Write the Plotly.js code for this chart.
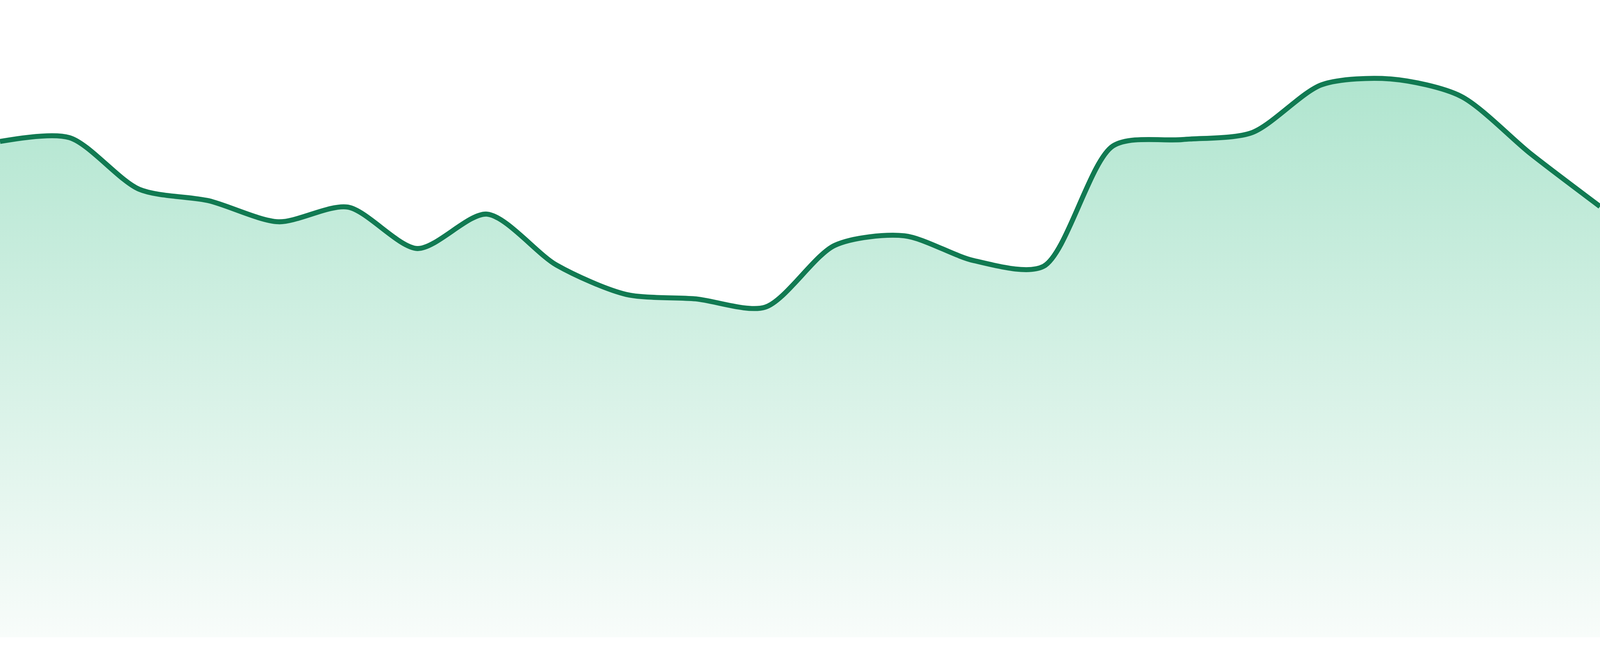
<!DOCTYPE html>
<html>
<head>
<meta charset="utf-8">
<script src="https://cdn.plot.ly/plotly-3.0.1.min.js"></script>
<style>
  html, body { margin: 0; padding: 0; background: #fff; overflow: hidden; }
  #chart { width: 100vw; height: 100vh; }
</style>
</head>
<body>
<div id="chart"></div>
<script>
// one sample per step, 24 steps
const steps = [0, 1, 2, 3, 4, 5, 6, 7, 8, 9, 10, 11, 12, 13, 14, 15, 16, 17, 18, 19, 20, 21, 22, 23];
const values = [
  77.8, 78.4, 70.3, 68.5, 65.2, 67.5, 61.0, 66.4,
  58.4, 53.8, 53.1, 51.8, 61.5, 63.0, 59.1, 58.2,
  77.1, 78.1, 79.2, 86.7, 87.6, 84.9, 75.9, 67.6
];

const lineColor = '#117a52';
const fillTop = '#b0e5cf';
const fillBottom = '#f8fcfa';

const yMax = values.reduce((a, b) => Math.max(a, b), 0);

// the reference was 4800x1680; scale sizes to whatever the viewport really is
const W = window.innerWidth;
const H = window.innerHeight;
const k = W / 4800;

Plotly.newPlot('chart', [{
  type: 'scatter',
  mode: 'lines',
  x: steps,
  y: values,
  fill: 'tozeroy',
  fillgradient: {
    type: 'vertical',
    start: 0,
    stop: yMax,
    colorscale: [[0, fillBottom], [1, fillTop]],
  },
  line: {color: lineColor, width: 15 * k, shape: 'spline', smoothing: 0.8},
  hoverinfo: 'skip',
}], {
  width: W,
  height: H,
  margin: {l: 0, r: 0, t: 0, b: Math.round(H * 48 / 1680), pad: 0},
  paper_bgcolor: '#fff',
  plot_bgcolor: '#fff',
  showlegend: false,
  xaxis: {range: [0, 23], visible: false, fixedrange: true},
  yaxis: {range: [0, 100], visible: false, fixedrange: true},
}, {
  displayModeBar: false,
  staticPlot: true,
});
</script>
</body>
</html>
